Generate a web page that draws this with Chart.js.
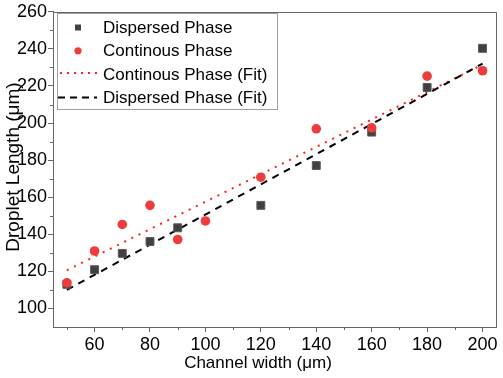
<!DOCTYPE html>
<html><head><meta charset="utf-8">
<script src="https://cdn.jsdelivr.net/npm/chart.js@4/dist/chart.umd.min.js"></script>
<style>html,body{margin:0;padding:0;background:#fff}#wrap{width:503px;height:378px}</style>
</head><body><div id="wrap"><canvas id="c" width="503" height="378"></canvas></div>
<script>
// ---- data ----
const channelWidth = [50, 60, 70, 80, 90, 100, 120, 140, 160, 180, 200];
const dispersedPhase = [113.0, 120.9, 129.7, 136.1, 143.5, null, 155.6, 177.1, 195.1, 219.2, 240.3];
const continuousPhase = [113.8, 131.0, 145.3, 155.6, 137.2, 147.2, 170.8, 196.9, 197.4, 225.3, 228.2];
const fitX = [50, 200];
const continuousFit = [120.6, 231.5];
const dispersedFit = [110.0, 232.0];
const xMajorTicks = [60, 80, 100, 120, 140, 160, 180, 200];
const xMinorTicks = [50, 70, 90, 110, 130, 150, 170, 190];
const yMajorTicks = [100, 120, 140, 160, 180, 200, 220, 240, 260];
const yMinorTicks = [110, 130, 150, 170, 190, 210, 230, 250];
const seriesLabels = ['Dispersed Phase', 'Continous Phase', 'Continous Phase (Fit)', 'Dispersed Phase (Fit)'];
const xTitle = 'Channel width (\u03bcm)';
const yTitle = 'Droplet Length (\u03bcm)';

const FONT = "'Liberation Sans', Arial, sans-serif";
const AXIS_COLOR = '#666666';
const SQ_COLOR = '#404040';
const RED = '#ee3b3b';

function pts(xs, ys) { return xs.map((x, i) => ({x: x, y: ys[i]})).filter(p => p.y !== null); }

const overlay = {
  id: 'overlay',
  afterDraw(chart) {
    const ctx = chart.ctx, a = chart.chartArea, sx = chart.scales.x, sy = chart.scales.y;
    ctx.save();
    ctx.strokeStyle = AXIS_COLOR; ctx.lineWidth = 1;
    // frame (top + right)
    ctx.beginPath();
    ctx.moveTo(Math.round(a.left), Math.round(a.top) + 0.5);
    ctx.lineTo(Math.round(a.right) + 0.5, Math.round(a.top) + 0.5);
    ctx.lineTo(Math.round(a.right) + 0.5, Math.round(a.bottom));
    ctx.stroke();
    // minor ticks
    ctx.beginPath();
    xMinorTicks.forEach(v => {
      const px = Math.round(sx.getPixelForValue(v)) + 0.5;
      ctx.moveTo(px, a.bottom); ctx.lineTo(px, a.bottom + 3);
    });
    yMinorTicks.forEach(v => {
      const py = Math.round(sy.getPixelForValue(v)) + 0.5;
      ctx.moveTo(a.left, py); ctx.lineTo(a.left - 3, py);
    });
    ctx.stroke();
    // axis titles
    ctx.fillStyle = '#000';
    ctx.textAlign = 'center'; ctx.textBaseline = 'middle';
    ctx.font = '17px ' + FONT;
    ctx.fillText(xTitle, 258, 363);
    ctx.save();
    ctx.translate(14, 167); ctx.rotate(-Math.PI / 2);
    ctx.font = '19px ' + FONT;
    ctx.fillText(yTitle, 0, 0);
    ctx.restore();
    // legend
    const L = 57.5, T = 13.5, W = 220, H = 96;
    ctx.strokeStyle = '#a0a0a0'; ctx.lineWidth = 1;
    ctx.strokeRect(L, T, W, H);
    const rows = [27.5, 50.8, 74, 97.4];
    const ds = chart.data.datasets;
    // square
    ctx.fillStyle = ds[0].backgroundColor;
    ctx.fillRect(75, rows[0] - 3, 6, 6);
    // circle
    ctx.fillStyle = ds[1].backgroundColor;
    ctx.beginPath(); ctx.arc(78, rows[1], 3.6, 0, Math.PI * 2); ctx.fill();
    // dotted
    ctx.strokeStyle = ds[2].borderColor; ctx.lineWidth = 2;
    ctx.setLineDash([2, 5]);
    ctx.beginPath(); ctx.moveTo(60, rows[2] - 1); ctx.lineTo(97, rows[2] - 1); ctx.stroke();
    // dashed
    ctx.strokeStyle = ds[3].borderColor;
    ctx.setLineDash([7, 5]);
    ctx.beginPath(); ctx.moveTo(58, rows[3]); ctx.lineTo(97, rows[3]); ctx.stroke();
    ctx.setLineDash([]);
    ctx.fillStyle = '#000'; ctx.textAlign = 'left'; ctx.textBaseline = 'middle';
    ctx.font = '17px ' + FONT;
    seriesLabels.forEach((t, i) => ctx.fillText(t, 103, rows[i] + 1));
    ctx.restore();
  }
};

new Chart(document.getElementById('c'), {
  type: 'scatter',
  data: {
    datasets: [
      { label: seriesLabels[0], data: pts(channelWidth, dispersedPhase), pointStyle: 'rect', pointRadius: 5.6,
        backgroundColor: SQ_COLOR, borderColor: '#5a5a5a', borderWidth: 1, order: 1 },
      { label: seriesLabels[1], data: pts(channelWidth, continuousPhase), pointStyle: 'circle', pointRadius: 4.8,
        backgroundColor: RED, borderColor: RED, borderWidth: 0, order: 0 },
      { label: seriesLabels[2], type: 'line', data: pts(fitX, continuousFit), showLine: true, pointRadius: 0,
        borderColor: '#ff2020', borderWidth: 2, borderDash: [2, 6], fill: false, order: 3 },
      { label: seriesLabels[3], type: 'line', data: pts(fitX, dispersedFit), showLine: true, pointRadius: 0,
        borderColor: '#000000', borderWidth: 2, borderDash: [7, 6], fill: false, order: 2 }
    ]
  },
  options: {
    responsive: false, animation: false, devicePixelRatio: 1,
    layout: { padding: { top: 10, right: 4, left: 0, bottom: 0 } },
    plugins: { legend: { display: false }, tooltip: { enabled: false } },
    scales: {
      x: {
        type: 'linear', min: 45, max: 205,
        afterBuildTicks: s => { s.ticks = xMajorTicks.map(v => ({value: v})); },
        afterFit: s => { s.height = 51; },
        grid: { display: true, drawOnChartArea: false, drawTicks: true, tickLength: 5, color: AXIS_COLOR, tickColor: AXIS_COLOR },
        border: { display: true, color: AXIS_COLOR, width: 1 },
        ticks: { font: { family: FONT, size: 18 }, color: '#000', padding: 2, maxRotation: 0, autoSkip: false }
      },
      y: {
        type: 'linear', min: 90, max: 260,
        afterBuildTicks: s => { s.ticks = yMajorTicks.map(v => ({value: v})); },
        afterFit: s => { s.width = 53; },
        grid: { display: true, drawOnChartArea: false, drawTicks: true, tickLength: 5, color: AXIS_COLOR, tickColor: AXIS_COLOR },
        border: { display: true, color: AXIS_COLOR, width: 1 },
        ticks: { font: { family: FONT, size: 18 }, color: '#000', padding: 1, autoSkip: false }
      }
    }
  },
  plugins: [overlay]
});
</script></body></html>
